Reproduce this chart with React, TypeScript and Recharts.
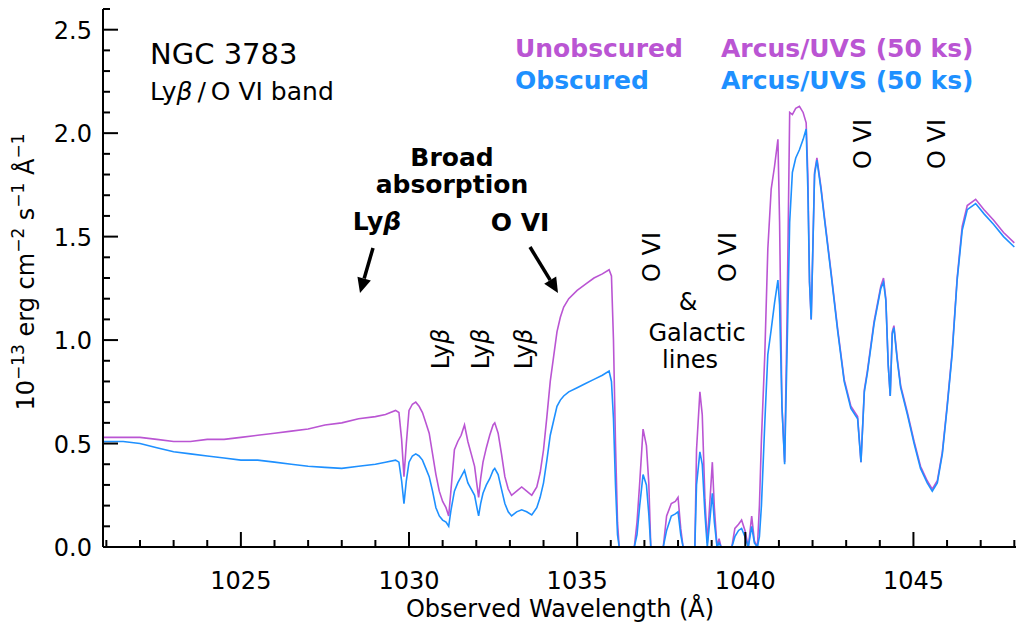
import React from 'react';
import { LineChart, Line, XAxis, YAxis } from 'recharts';

const wavelengths = [
  1020.9, 1021.5, 1022.0, 1022.5, 1023.0, 1023.5, 1024.0, 1024.5, 1025.0, 1025.5,
  1026.0, 1026.5, 1027.0, 1027.5, 1028.0, 1028.5, 1029.0, 1029.3, 1029.6, 1029.7,
  1029.78, 1029.85, 1029.92, 1030.0, 1030.1, 1030.2, 1030.3, 1030.4, 1030.5, 1030.6,
  1030.7, 1030.8, 1030.9, 1031.0, 1031.1, 1031.18, 1031.25, 1031.35, 1031.45, 1031.55,
  1031.65, 1031.75, 1031.85, 1031.95, 1032.02, 1032.07, 1032.13, 1032.2, 1032.3, 1032.4,
  1032.5, 1032.55, 1032.65, 1032.75, 1032.85, 1032.95, 1033.05, 1033.2, 1033.35, 1033.5,
  1033.65, 1033.8, 1033.9, 1034.0, 1034.1, 1034.2, 1034.3, 1034.4, 1034.5, 1034.6,
  1034.75, 1035.0, 1035.25, 1035.5, 1035.75, 1035.95, 1036.02, 1036.08, 1036.14, 1036.2,
  1036.25, 1036.7, 1036.78, 1036.86, 1036.96, 1037.06, 1037.13, 1037.19, 1037.56, 1037.66,
  1037.8, 1037.92, 1038.0, 1038.08, 1038.15, 1038.5, 1038.55, 1038.65, 1038.72, 1038.8,
  1038.87, 1038.94, 1039.02, 1039.08, 1039.16, 1039.22, 1039.28, 1039.6, 1039.69, 1039.8,
  1039.89, 1039.99, 1040.09, 1040.19, 1040.27, 1040.36, 1040.42, 1040.48, 1040.58, 1040.67,
  1040.77, 1040.87, 1040.97, 1041.02, 1041.09, 1041.17, 1041.24, 1041.32, 1041.4, 1041.5,
  1041.61, 1041.72, 1041.81, 1041.86, 1041.91, 1041.96, 1042.06, 1042.13, 1042.25, 1042.35,
  1042.55, 1042.75, 1042.94, 1043.14, 1043.34, 1043.44, 1043.54, 1043.63, 1043.83, 1044.03,
  1044.11, 1044.18, 1044.25, 1044.31, 1044.37, 1044.42, 1044.52, 1044.62, 1044.82, 1045.02,
  1045.21, 1045.41, 1045.56, 1045.71, 1045.86, 1046.0, 1046.15, 1046.3, 1046.45, 1046.6,
  1046.85, 1047.1, 1047.38, 1047.68, 1048.0,
];

const unobscured = [
  0.53, 0.53, 0.53, 0.52, 0.51, 0.51, 0.52, 0.52, 0.53, 0.54,
  0.55, 0.56, 0.57, 0.59, 0.60, 0.62, 0.63, 0.64, 0.66, 0.65,
  0.52, 0.34, 0.50, 0.66, 0.69, 0.70, 0.68, 0.65, 0.60, 0.55,
  0.45, 0.35, 0.27, 0.22, 0.19, 0.15, 0.28, 0.47, 0.51, 0.54,
  0.59, 0.51, 0.45, 0.39, 0.30, 0.24, 0.33, 0.41, 0.48, 0.54,
  0.59, 0.60, 0.55, 0.45, 0.34, 0.28, 0.25, 0.27, 0.29, 0.27,
  0.25, 0.29, 0.36, 0.47, 0.63, 0.80, 0.92, 1.04, 1.11, 1.16,
  1.20, 1.24, 1.27, 1.30, 1.32, 1.34, 1.31, 1.00, 0.50, 0.12,
  0.00, 0.00, 0.12, 0.31, 0.57, 0.49, 0.31, 0.00, 0.00, 0.15,
  0.21, 0.22, 0.24, 0.09, 0.00, 0.00, 0.47, 0.75, 0.64, 0.23,
  0.02, 0.20, 0.41, 0.19, 0.00, 0.04, 0.00, 0.00, 0.09, 0.11,
  0.13, 0.08, 0.00, 0.15, 0.03, 0.00, 0.20, 0.52, 0.93, 1.44,
  1.73, 1.84, 1.97, 1.57, 0.68, 0.41, 1.09, 2.10, 2.09, 2.12,
  2.13, 2.10, 2.05, 1.80, 1.28, 1.10, 1.81, 1.88, 1.74, 1.60,
  1.33, 1.05, 0.81, 0.68, 0.63, 0.41, 0.76, 0.85, 1.09, 1.26,
  1.30, 1.20, 0.88, 0.73, 1.04, 1.07, 0.91, 0.78, 0.65, 0.51,
  0.39, 0.32, 0.28, 0.32, 0.46, 0.68, 0.94, 1.30, 1.55, 1.65,
  1.68, 1.63, 1.58, 1.52, 1.47,
];

const obscured = [
  0.51, 0.51, 0.50, 0.48, 0.46, 0.45, 0.44, 0.43, 0.42, 0.42,
  0.41, 0.40, 0.39, 0.385, 0.38, 0.39, 0.40, 0.41, 0.42, 0.41,
  0.32, 0.21, 0.32, 0.41, 0.44, 0.45, 0.44, 0.42, 0.38, 0.34,
  0.27, 0.19, 0.15, 0.13, 0.12, 0.10, 0.18, 0.27, 0.31, 0.34,
  0.37, 0.31, 0.28, 0.25, 0.19, 0.15, 0.21, 0.26, 0.30, 0.33,
  0.37, 0.38, 0.35, 0.28, 0.21, 0.17, 0.15, 0.17, 0.18, 0.17,
  0.155, 0.19, 0.24, 0.31, 0.42, 0.54, 0.61, 0.68, 0.71, 0.73,
  0.75, 0.77, 0.79, 0.81, 0.83, 0.85, 0.80, 0.62, 0.30, 0.06,
  0.00, 0.00, 0.06, 0.20, 0.35, 0.30, 0.16, 0.00, 0.00, 0.08,
  0.15, 0.16, 0.17, 0.06, 0.00, 0.00, 0.30, 0.46, 0.40, 0.16,
  0.00, 0.12, 0.26, 0.12, 0.00, 0.02, 0.00, 0.00, 0.05, 0.08,
  0.09, 0.05, 0.00, 0.10, 0.02, 0.00, 0.05, 0.20, 0.60, 0.93,
  1.05, 1.18, 1.29, 1.17, 0.68, 0.40, 0.93, 1.57, 1.81, 1.88,
  1.92, 1.97, 2.02, 1.73, 1.28, 1.10, 1.80, 1.87, 1.73, 1.59,
  1.32, 1.04, 0.80, 0.67, 0.62, 0.41, 0.75, 0.84, 1.08, 1.25,
  1.28, 1.19, 0.88, 0.73, 1.03, 1.06, 0.90, 0.77, 0.64, 0.50,
  0.38, 0.31, 0.27, 0.31, 0.45, 0.67, 0.93, 1.29, 1.53, 1.63,
  1.66, 1.61, 1.56, 1.50, 1.45,
];

const xTicks = [
  1021, 1022, 1023, 1024, 1025, 1026, 1027, 1028, 1029, 1030, 1031, 1032, 1033, 1034,
  1035, 1036, 1037, 1038, 1039, 1040, 1041, 1042, 1043, 1044, 1045, 1046, 1047, 1048,
];
const xLabeled = [1025, 1030, 1035, 1040, 1045];
const yTicks = [
  0, 0.1, 0.2, 0.3, 0.4, 0.5, 0.6, 0.7, 0.8, 0.9, 1.0, 1.1, 1.2, 1.3,
  1.4, 1.5, 1.6, 1.7, 1.8, 1.9, 2.0, 2.1, 2.2, 2.3, 2.4, 2.5, 2.6,
];
const yLabeled = [0, 0.5, 1.0, 1.5, 2.0, 2.5];

const rows = wavelengths.map((w, i) => ({ w, u: unobscured[i], o: obscured[i] }));

const FONT = "'DejaVu Sans', sans-serif";
const PURPLE = '#BA55D3';
const BLUE = '#1E90FF';
const MAJOR = 15;
const MINOR = 7;

const isMajorY = (v: number) => yLabeled.some((t) => Math.abs(t - v) < 1e-9);

const BottomTick = (p: any) => {
  const { x, y, payload } = p;
  const v = payload.value;
  const major = xLabeled.includes(v);
  return (
    <g>
      <line x1={x} y1={y} x2={x} y2={y - (major ? MAJOR : MINOR)} stroke="#000" strokeWidth={2} />
      {major && (
        <text x={x} y={y + 42} textAnchor="middle" fontSize={24} fontFamily={FONT} fill="#000">
          {v}
        </text>
      )}
    </g>
  );
};

const TopTick = (p: any) => {
  const { x, y, payload } = p;
  const major = xLabeled.includes(payload.value);
  return <line x1={x} y1={y} x2={x} y2={y + (major ? MAJOR : MINOR)} stroke="#000" strokeWidth={2} />;
};

const LeftTick = (p: any) => {
  const { x, y, payload } = p;
  const v = payload.value;
  const major = isMajorY(v);
  return (
    <g>
      <line x1={x} y1={y} x2={x + (major ? MAJOR : MINOR)} y2={y} stroke="#000" strokeWidth={2} />
      {major && (
        <text x={x - 11} y={y + 9} textAnchor="end" fontSize={24} fontFamily={FONT} fill="#000">
          {v.toFixed(1)}
        </text>
      )}
    </g>
  );
};

const RightTick = (p: any) => {
  const { x, y, payload } = p;
  const major = isMajorY(payload.value);
  return <line x1={x} y1={y} x2={x - (major ? MAJOR : MINOR)} y2={y} stroke="#000" strokeWidth={2} />;
};

const Arrow = ({ x1, y1, x2, y2 }: { x1: number; y1: number; x2: number; y2: number }) => {
  const dx = x2 - x1;
  const dy = y2 - y1;
  const len = Math.sqrt(dx * dx + dy * dy);
  const ux = dx / len;
  const uy = dy / len;
  const hl = 15;
  const hw = 7;
  const bx = x2 - ux * hl;
  const by = y2 - uy * hl;
  const pts = `${x2},${y2} ${bx - uy * hw},${by + ux * hw} ${bx + uy * hw},${by - ux * hw}`;
  return (
    <g>
      <line x1={x1} y1={y1} x2={bx} y2={by} stroke="#000" strokeWidth={3.5} />
      <polygon points={pts} fill="#000" />
    </g>
  );
};

const Rot = ({ cx, cy, children }: { cx: number; cy: number; children: React.ReactNode }) => (
  <text
    x={cx}
    y={cy}
    transform={`rotate(-90 ${cx} ${cy})`}
    textAnchor="middle"
    dominantBaseline="central"
    fontSize={24}
    fontFamily={FONT}
    fill="#000"
  >
    {children}
  </text>
);

const Overlay = () => (
  <svg
    width={1017}
    height={624}
    style={{ position: 'absolute', left: 0, top: 0, pointerEvents: 'none' }}
    fontFamily={FONT}
  >
    <text x={150} y={64} fontSize={29} fill="#000">NGC 3783</text>
    <text x={150} y={100} fontSize={25} fill="#000">
      Ly<tspan fontStyle="italic">β</tspan>{'\u2009/\u2009O VI band'}
    </text>

    <text x={515} y={57} fontSize={25} fontWeight="bold" fill={PURPLE}>Unobscured</text>
    <text x={515} y={89} fontSize={25} fontWeight="bold" fill={BLUE}>Obscured</text>
    <text x={721} y={57} fontSize={25} fontWeight="bold" fill={PURPLE}>Arcus/UVS (50 ks)</text>
    <text x={721} y={89} fontSize={25} fontWeight="bold" fill={BLUE}>Arcus/UVS (50 ks)</text>

    <text x={452} y={166} fontSize={25} fontWeight="bold" textAnchor="middle" fill="#000">Broad</text>
    <text x={452} y={193} fontSize={25} fontWeight="bold" textAnchor="middle" fill="#000">absorption</text>
    <text x={377} y={230} fontSize={25} fontWeight="bold" textAnchor="middle" fill="#000">
      Ly<tspan fontStyle="italic">β</tspan>
    </text>
    <text x={520} y={231} fontSize={25} fontWeight="bold" textAnchor="middle" fill="#000">O VI</text>
    <Arrow x1={373} y1={248} x2={360} y2={293} />
    <Arrow x1={530} y1={247} x2={558} y2={293} />

    <Rot cx={441} cy={349}>Ly<tspan fontStyle="italic">β</tspan></Rot>
    <Rot cx={481} cy={349}>Ly<tspan fontStyle="italic">β</tspan></Rot>
    <Rot cx={524} cy={349}>Ly<tspan fontStyle="italic">β</tspan></Rot>
    <Rot cx={652} cy={257}>O VI</Rot>
    <Rot cx={728} cy={257}>O VI</Rot>
    <Rot cx={863} cy={144}>O VI</Rot>
    <Rot cx={937} cy={144}>O VI</Rot>

    <text x={688} y={310} fontSize={24} textAnchor="middle" fill="#000">&amp;</text>
    <text x={697} y={341} fontSize={24} textAnchor="middle" fill="#000">Galactic</text>
    <text x={690} y={368} fontSize={24} textAnchor="middle" fill="#000">lines</text>

    <text x={560} y={617} fontSize={24} textAnchor="middle" fill="#000">Observed Wavelength (Å)</text>

    <text
      x={34}
      y={272}
      transform="rotate(-90 34 272)"
      textAnchor="middle"
      fontSize={24}
      fill="#000"
    >
      10<tspan fontSize={17} dy={-10}>−13</tspan>
      <tspan dy={10}> erg cm</tspan>
      <tspan fontSize={17} dy={-10}>−2</tspan>
      <tspan dy={10}> s</tspan>
      <tspan fontSize={17} dy={-10}>−1</tspan>
      <tspan dy={10}> Å</tspan>
      <tspan fontSize={17} dy={-10}>−1</tspan>
    </text>
  </svg>
);

export default function App() {
  return (
    <div
      style={{
        position: 'absolute',
        left: 0,
        top: 0,
        width: 1017,
        height: 624,
        background: '#fff',
        fontFamily: FONT,
      }}
    >
      <LineChart width={1017} height={624} data={rows} margin={{ top: 9, right: 1, bottom: 0, left: 0 }}>
        <XAxis
          xAxisId="b"
          type="number"
          dataKey="w"
          domain={[1020.9, 1048.05]}
          allowDataOverflow
          ticks={xTicks}
          interval={0}
          height={77}
          tickSize={0}
          tickMargin={0}
          tickLine={false}
          axisLine={{ stroke: '#000', strokeWidth: 2 }}
          tick={(p: any) => <BottomTick {...p} />}
        />
        <XAxis
          xAxisId="t"
          orientation="top"
          type="number"
          dataKey="w"
          domain={[1020.9, 1048.05]}
          allowDataOverflow
          ticks={xTicks}
          interval={0}
          height={0}
          tickSize={0}
          tickMargin={0}
          tickLine={false}
          axisLine={{ stroke: '#000', strokeWidth: 2 }}
          tick={(p: any) => <TopTick {...p} />}
        />
        <YAxis
          yAxisId="l"
          type="number"
          domain={[0, 2.6]}
          allowDataOverflow
          ticks={yTicks}
          interval={0}
          width={103}
          tickSize={0}
          tickMargin={0}
          tickLine={false}
          axisLine={{ stroke: '#000', strokeWidth: 2 }}
          tick={(p: any) => <LeftTick {...p} />}
        />
        <YAxis
          yAxisId="r"
          orientation="right"
          type="number"
          domain={[0, 2.6]}
          allowDataOverflow
          ticks={yTicks}
          interval={0}
          width={0}
          tickSize={0}
          tickMargin={0}
          tickLine={false}
          axisLine={{ stroke: '#000', strokeWidth: 2 }}
          tick={(p: any) => <RightTick {...p} />}
        />
        <Line
          xAxisId="b"
          yAxisId="l"
          type="linear"
          dataKey="u"
          stroke={PURPLE}
          strokeWidth={1.6}
          dot={false}
          isAnimationActive={false}
        />
        <Line
          xAxisId="b"
          yAxisId="l"
          type="linear"
          dataKey="o"
          stroke={BLUE}
          strokeWidth={1.6}
          dot={false}
          isAnimationActive={false}
        />
      </LineChart>
      <Overlay />
    </div>
  );
}
